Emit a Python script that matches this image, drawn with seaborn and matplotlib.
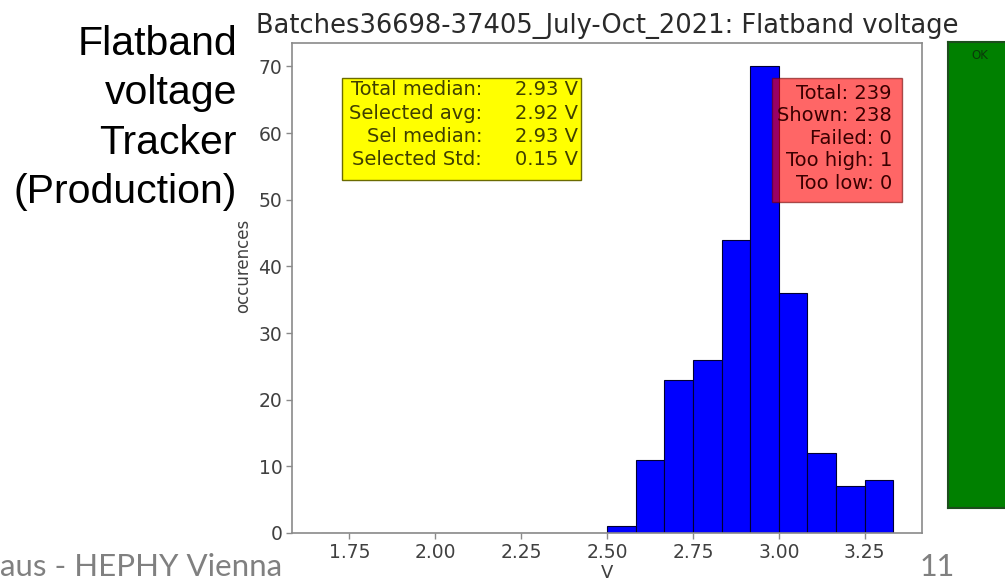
import matplotlib
matplotlib.use("Agg")
import matplotlib.pyplot as plt
import seaborn as sns
from matplotlib.patches import Rectangle

# ---- data ----
bin_centers = [2.54, 2.63, 2.71, 2.79, 2.88, 2.96, 3.04, 3.13, 3.21, 3.29]
counts = [1, 11, 23, 26, 44, 70, 36, 12, 7, 8]
x_ticks = [1.75, 2.00, 2.25, 2.50, 2.75, 3.00, 3.25]
y_ticks = [0, 10, 20, 30, 40, 50, 60, 70]

title = "Batches36698-37405_July-Oct_2021: Flatband voltage"
summary_labels = ["Total median:", "Selected avg:", "Sel median:", "Selected Std:"]
summary_values = ["2.93 V", "2.92 V", "2.93 V", "0.15 V"]
status_lines = ["Total: 239", "Shown: 238", "Failed: 0", "Too high: 1", "Too low: 0"]
side_title = ["Flatband", "voltage", "Tracker", "(Production)"]

sns.set_style("white")
plt.rcParams['font.family'] = ['DejaVu Sans']

W, H = 1005, 581
fig = plt.figure(figsize=(W / 100, H / 100), dpi=100)

def fx(px):
    return px / W

def fy(py):
    return 1 - py / H

AX_L, AX_R, AX_T, AX_B = 292, 922, 43, 533
ax = fig.add_axes([fx(AX_L), fy(AX_B), fx(AX_R) - fx(AX_L), fy(AX_T) - fy(AX_B)])

def axx(px):
    return (px - AX_L) / (AX_R - AX_L)

def axy(py):
    return (AX_B - py) / (AX_B - AX_T)

sns.histplot(x=bin_centers, weights=counts, bins=20, binrange=(1.6667, 3.3333),
             color="#0000ff", edgecolor="#000033", linewidth=0.8, alpha=1.0,
             ax=ax, zorder=2)

ax.set_xticks(x_ticks)
ax.set_xticklabels([f"{t:.2f}" for t in x_ticks])
ax.set_yticks(y_ticks)
ax.set_ylim(0, 73.5)

tick_col = "#404040"
spine_col = "#8a8a8a"
ax.tick_params(axis="both", which="major", labelsize=13.5, labelcolor=tick_col,
               color=spine_col, length=4, width=1, direction="out",
               bottom=True, left=True, pad=3)
for s in ax.spines.values():
    s.set_color(spine_col)
    s.set_linewidth(1.2)

ax.set_title(title, fontsize=18.5, color="#2a2a2a", pad=7)
ax.set_xlabel("V", fontsize=13, color=tick_col)
ax.set_ylabel("occurences", fontsize=12, color=tick_col)
ax.yaxis.set_label_coords(-0.063, axy(266))
ax.xaxis.set_label_coords(0.5, axy(564))

# yellow summary box
ax.add_patch(Rectangle((axx(342), axy(180)), axx(581) - axx(342), axy(78) - axy(180),
                       transform=ax.transAxes, facecolor="#ffff00",
                       edgecolor="#6b6b00", linewidth=1.0, zorder=3))
txt_kw = dict(transform=ax.transAxes, fontsize=14, color="#3f3f00",
              va="baseline", zorder=4, linespacing=1.28)
ax.text(axx(482), axy(165), "\n".join(summary_labels), ha="right",
        multialignment="right", **txt_kw)
ax.text(axx(578), axy(165), "\n".join(summary_values), ha="right",
        multialignment="right", **txt_kw)

# red status box (semi-transparent, drawn over the bars)
ax.add_patch(Rectangle((axx(772), axy(202)), axx(902) - axx(772), axy(78) - axy(202),
                       transform=ax.transAxes, facecolor="red", alpha=0.6,
                       edgecolor="#700000", linewidth=1.0, zorder=3))
ax.text(axx(892), axy(189), "\n".join(status_lines), transform=ax.transAxes,
        ha="right", va="baseline", multialignment="right", fontsize=14,
        color="#3a0000", linespacing=1.24, zorder=5)

# green status panel
gax = fig.add_axes([fx(948), fy(508), fx(1012) - fx(948), fy(42) - fy(508)])
gax.set_facecolor("#008000")
gax.set_xticks([])
gax.set_yticks([])
for s in gax.spines.values():
    s.set_color("#1d4d1d")
    s.set_linewidth(1.5)
gax.text(0.5, 0.985, "OK", transform=gax.transAxes, ha="center", va="top",
         fontsize=8.5, color="#0a3a0a")

# slide texts
side_baselines = [55, 104, 154, 203]
for line, yb in zip(side_title, side_baselines):
    fig.text(fx(237), fy(yb), line, ha="right", va="baseline",
             fontsize=29.5, family="Liberation Sans", color="black")
fig.text(fx(0), fy(576), "aus - HEPHY Vienna", ha="left", va="baseline",
         fontsize=22.5, family="Lato", color="#808080")
fig.text(fx(955), fy(576), "11", ha="right", va="baseline",
         fontsize=22, family="Lato", color="#808080")

fig.savefig("out.png", dpi=100, facecolor="white")
